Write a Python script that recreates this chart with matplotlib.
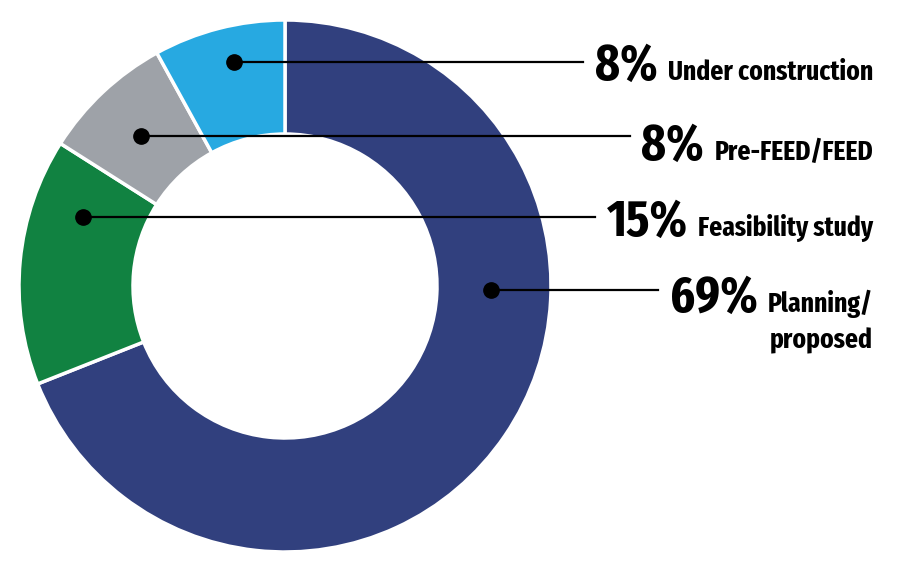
import matplotlib
matplotlib.use('Agg')
import matplotlib.pyplot as plt

# Data
stages = ['Planning/\nproposed', 'Feasibility study', 'Pre-FEED/FEED', 'Under construction']
shares = [69, 15, 8, 8]
colors = ['#31407e', '#118241', '#9ea2a8', '#27a9e1']

W, H = 900, 574
FONT = ['Fira Sans Extra Condensed', 'Roboto Condensed', 'DejaVu Sans']

fig = plt.figure(figsize=(W / 100, H / 100), dpi=100)
ax = fig.add_axes([0, 0, 1, 1])

cx, cy, R = 285, H - 286, 266
ax.pie(shares, colors=colors, startangle=90, counterclock=False,
       center=(cx, cy), radius=R, frame=True,
       wedgeprops=dict(width=114, edgecolor='white', linewidth=2.5))
ax.set_xlim(0, W)
ax.set_ylim(0, H)
ax.set_aspect('equal')
ax.axis('off')

# leader: dot (px), line end x, text baseline (px), all from top-left
leaders = [
    ((491, 290), 665, 312),
    ((83, 217), 615, 236),
    ((141, 136), 635, 160),
    ((234, 62), 593, 80),
]

fig.canvas.draw()
r = fig.canvas.get_renderer()
for pct, name, (dot, xend, base) in zip(shares, stages, leaders):
    dx, dy = dot
    lines = name.split('\n')
    t = ax.text(873, H - base, lines[0], ha='right', va='baseline',
                fontsize=20, fontweight='bold', family=FONT)
    if len(lines) > 1:
        ax.text(873, H - base - 36, lines[1], ha='right', va='baseline',
                fontsize=20, fontweight='bold', family=FONT)
    bb = t.get_window_extent(renderer=r)
    p = ax.text(bb.x0 - 10, H - base, f'{pct}%', ha='right', va='baseline',
                fontsize=37, fontweight='bold', family=FONT)
    pb = p.get_window_extent(renderer=r)
    xend = min(xend, pb.x0 - 12)
    ax.plot([dx, xend], [H - dy, H - dy], color='black', lw=1.6, zorder=3)
    ax.plot(dx, H - dy, 'o', color='black', ms=11, zorder=4)

fig.savefig('out.png', dpi=100, facecolor='white')
